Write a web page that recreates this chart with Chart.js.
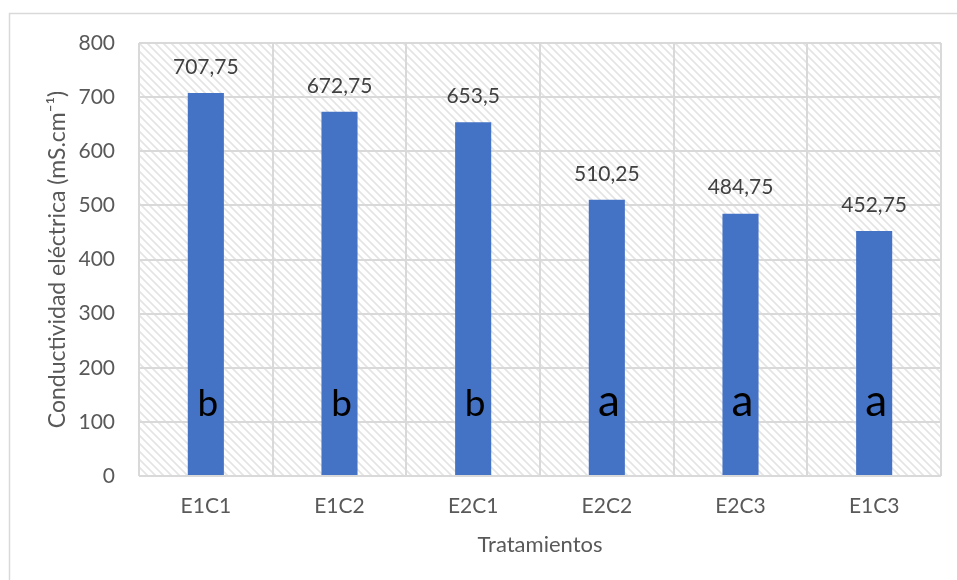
<!DOCTYPE html>
<html>
<head>
<meta charset="utf-8">
<script src="https://cdn.jsdelivr.net/npm/chart.js@4/dist/chart.umd.min.js"></script>
<style>
  html, body { margin: 0; padding: 0; background: #ffffff; }
  #wrap { width: 957px; height: 580px; }
</style>
</head>
<body>
<div id="wrap"><canvas id="c" width="957" height="580"></canvas></div>
<script>
// Treatments, mean electrical conductivity and significance groups
const categories = ['E1C1', 'E1C2', 'E2C1', 'E2C2', 'E2C3', 'E1C3'];
const conductivity = [707.75, 672.75, 653.5, 510.25, 484.75, 452.75];
const groups = ['b', 'b', 'b', 'a', 'a', 'a'];
const yTicks = [0, 100, 200, 300, 400, 500, 600, 700, 800];

const FONT = 'Lato, "Open Sans", sans-serif';
const GRID = '#d9d9d9';

// diagonal hatch used as the plot-area fill
function makeHatch() {
  const t = document.createElement('canvas');
  t.width = 8; t.height = 8;
  const g = t.getContext('2d');
  g.fillStyle = '#ffffff';
  g.fillRect(0, 0, 8, 8);
  g.strokeStyle = '#e4e4e4';
  g.lineWidth = 1.6;
  g.beginPath();
  g.moveTo(-2, -2); g.lineTo(10, 10);
  g.moveTo(-10, -2); g.lineTo(2, 10);
  g.moveTo(6, -2); g.lineTo(18, 10);
  g.stroke();
  return g.createPattern(t, 'repeat');
}

const backdrop = {
  id: 'backdrop',
  beforeDraw(chart) {
    const { ctx, chartArea: a } = chart;
    ctx.save();
    ctx.fillStyle = '#ffffff';
    ctx.fillRect(0, 0, chart.width, chart.height);
    ctx.fillStyle = makeHatch();
    ctx.fillRect(a.left, a.top, a.right - a.left, a.bottom - a.top);
    ctx.strokeStyle = GRID;
    ctx.lineWidth = 1.5;
    ctx.strokeRect(9.5, 13.5, 2000, 2000);
    ctx.restore();
  }
};

// value above each bar and group letter inside each bar
const annotations = {
  id: 'annotations',
  afterDatasetsDraw(chart) {
    const { ctx } = chart;
    const meta = chart.getDatasetMeta(0);
    const y = chart.scales.y;
    ctx.save();
    ctx.textAlign = 'center';
    meta.data.forEach((bar, i) => {
      ctx.fillStyle = '#404040';
      ctx.font = '21px ' + FONT;
      ctx.textBaseline = 'middle';
      ctx.fillText(String(conductivity[i]).replace('.', ','), bar.x, bar.y - 26);
      ctx.fillStyle = '#000000';
      ctx.font = (groups[i] === 'a' ? '44px ' : '37px ') + FONT;
      ctx.textBaseline = 'alphabetic';
      ctx.fillText(groups[i], bar.x + 2, y.getPixelForValue(110));
    });
    ctx.restore();
  }
};

new Chart(document.getElementById('c'), {
  type: 'bar',
  data: {
    labels: categories,
    datasets: [{
      data: conductivity,
      backgroundColor: '#4472C4',
      borderWidth: 0,
      barPercentage: 0.27,
      categoryPercentage: 1
    }]
  },
  options: {
    responsive: false,
    animation: false,
    layout: { padding: { left: 0, right: 16, top: 43, bottom: 0 } },
    plugins: { legend: { display: false }, tooltip: { enabled: false } },
    scales: {
      x: {
        grid: { color: GRID, lineWidth: 2, drawTicks: false, offset: true },
        border: { display: false },
        ticks: { color: '#595959', font: { family: FONT, size: 21 }, padding: 18 },
        title: {
          display: true, text: 'Tratamientos', color: '#595959',
          font: { family: FONT, size: 22 }, padding: { top: 0, bottom: 22 }
        },
        afterFit(s) { s.height = 104; }
      },
      y: {
        min: 0, max: 800,
        afterBuildTicks(s) { s.ticks = yTicks.map(v => ({ value: v })); },
        grid: { color: GRID, lineWidth: 2, drawTicks: false },
        border: { display: false },
        ticks: { color: '#595959', font: { family: FONT, size: 21 }, padding: 24 },
        title: {
          display: true, text: 'Conductividad eléctrica (mS.cm⁻¹)', color: '#595959',
          font: { family: FONT, size: 23 }, padding: { top: 44, bottom: 0 }
        },
        afterFit(s) { s.width = 139; }
      }
    }
  },
  plugins: [backdrop, annotations]
});
</script>
</body>
</html>
